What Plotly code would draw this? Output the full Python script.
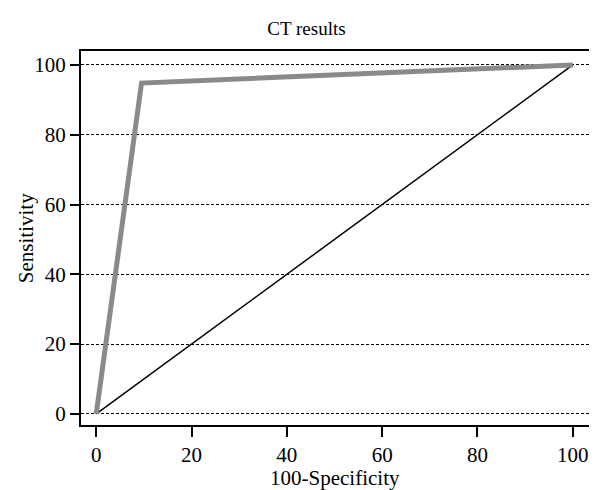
import plotly.graph_objects as go

# Data
roc_x = [0, 9.5, 100]
roc_y = [0, 94.8, 100]
ref_x = [0, 100]
ref_y = [0, 100]
tick_vals = [0, 20, 40, 60, 80, 100]
tick_text = ["0", "20", "40", "60", "80", "100"]

FONT = "Liberation Serif, Times New Roman, serif"

fig = go.Figure()
fig.add_trace(go.Scatter(x=ref_x, y=ref_y, mode="lines",
                         line=dict(color="black", width=1.5), showlegend=False))
fig.add_trace(go.Scatter(x=roc_x, y=roc_y, mode="lines",
                         line=dict(color="#8a8a8a", width=5), showlegend=False))

fig.update_layout(
    width=597, height=490,
    margin=dict(l=73, r=16, t=43, b=73, autoexpand=False),
    paper_bgcolor="white", plot_bgcolor="white",
    font=dict(family=FONT, size=21, color="black"),
    title=dict(text="CT results", x=0.5, xanchor="center", y=0.958, yanchor="middle",
               font=dict(family=FONT, size=19, color="black")),
    annotations=[
        dict(text="100-Specificity", xref="paper", yref="paper", x=0.5, y=-0.142,
             xanchor="center", yanchor="middle", showarrow=False,
             font=dict(family=FONT, size=21)),
        dict(text="Sensitivity", xref="paper", yref="paper", x=-0.108, y=0.5,
             xanchor="center", yanchor="middle", showarrow=False, textangle=-90,
             font=dict(family=FONT, size=21)),
    ],
)
fig.update_xaxes(
    range=[-3.2, 103.4], tickvals=tick_vals, ticktext=tick_text,
    showgrid=False, zeroline=False, automargin=False,
    showline=True, linecolor="black", linewidth=2, mirror=True,
    ticks="outside", ticklen=10, tickwidth=2, tickcolor="black",
    tickfont=dict(size=21),
)
fig.update_yaxes(
    range=[-3.2, 104], tickvals=tick_vals, ticktext=tick_text,
    showgrid=True, gridcolor="black", gridwidth=1, griddash="3px,2px",
    zeroline=False, automargin=False,
    showline=True, linecolor="black", linewidth=2, mirror=True,
    ticks="outside", ticklen=9, tickwidth=2, tickcolor="black",
    tickfont=dict(size=21),
)

fig.write_html("out.html")
